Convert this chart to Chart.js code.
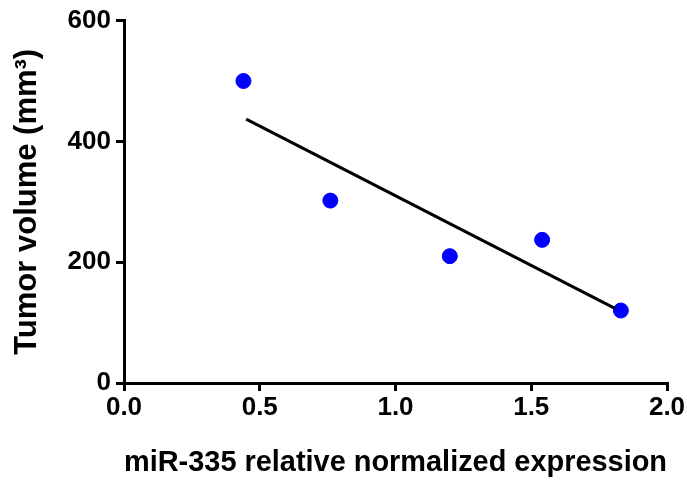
<!DOCTYPE html>
<html>
<head>
<meta charset="utf-8">
<script src="https://cdn.jsdelivr.net/npm/chart.js@4"></script>
<style>
  html, body { margin: 0; padding: 0; background: #fff; }
  #wrap { width: 687px; height: 482px; }
</style>
</head>
<body>
<div id="wrap"><canvas id="chart" width="687" height="482"></canvas></div>
<script>
// expression vs tumor volume
const expression = [0.44, 0.76, 1.20, 1.54, 1.83];
const tumorVolume = [500, 302, 210, 237, 120];
// regression line end points
const fitX = [0.45, 1.81];
const fitY = [437, 123];
const xTicks = [0.0, 0.5, 1.0, 1.5, 2.0];
const yTicks = [0, 200, 400, 600];

const font = 'Liberation Sans, Arial, sans-serif';

const ctx = document.getElementById('chart').getContext('2d');
new Chart(ctx, {
    type: 'scatter',
    data: {
        datasets: [
            {
                label: 'fit',
                type: 'line',
                data: fitX.map((x, i) => ({ x, y: fitY[i] })),
                borderColor: '#000',
                borderWidth: 3,
                pointRadius: 0,
                fill: false
            },
            {
                label: 'data',
                data: expression.map((x, i) => ({ x, y: tumorVolume[i] })),
                backgroundColor: '#0000ff',
                borderColor: '#0000ff',
                pointRadius: 7.5,
                pointHoverRadius: 7.5
            }
        ]
    },
    options: {
        responsive: false,
        animation: false,
        layout: { padding: { top: 20, right: 20, left: 0, bottom: 0 } },
        plugins: { legend: { display: false }, tooltip: { enabled: false } },
        scales: {
            x: {
                type: 'linear',
                min: 0,
                max: 2,
                afterBuildTicks: scale => { scale.ticks = xTicks.map(v => ({ value: v })); },
                afterFit: scale => { scale.height = 99; },
                ticks: {
                    color: '#000',
                    font: { family: font, size: 26, weight: 'bold' },
                    padding: 1,
                    callback: v => v.toFixed(1)
                },
                grid: { drawOnChartArea: false, drawTicks: true, tickLength: 8, color: '#000', lineWidth: 3 },
                border: { color: '#000', width: 3 },
                title: {
                    display: true,
                    text: 'miR-335 relative normalized expression',
                    color: '#000',
                    font: { family: font, size: 29, weight: 'bold' },
                    padding: { top: 0, bottom: 2 }
                }
            },
            y: {
                min: 0,
                max: 600,
                afterBuildTicks: scale => { scale.ticks = yTicks.map(v => ({ value: v })); },
                afterFit: scale => { scale.width = 124; },
                ticks: {
                    color: '#000',
                    font: { family: font, size: 26, weight: 'bold' },
                    padding: 5
                },
                grid: { drawOnChartArea: false, drawTicks: true, tickLength: 8, color: '#000', lineWidth: 3 },
                border: { color: '#000', width: 3 },
                title: {
                    display: true,
                    text: 'Tumor volume (mm³)',
                    color: '#000',
                    font: { family: font, size: 31, weight: 'bold' },
                    padding: { top: 9, bottom: 0 }
                }
            }
        }
    }
});
</script>
</body>
</html>
